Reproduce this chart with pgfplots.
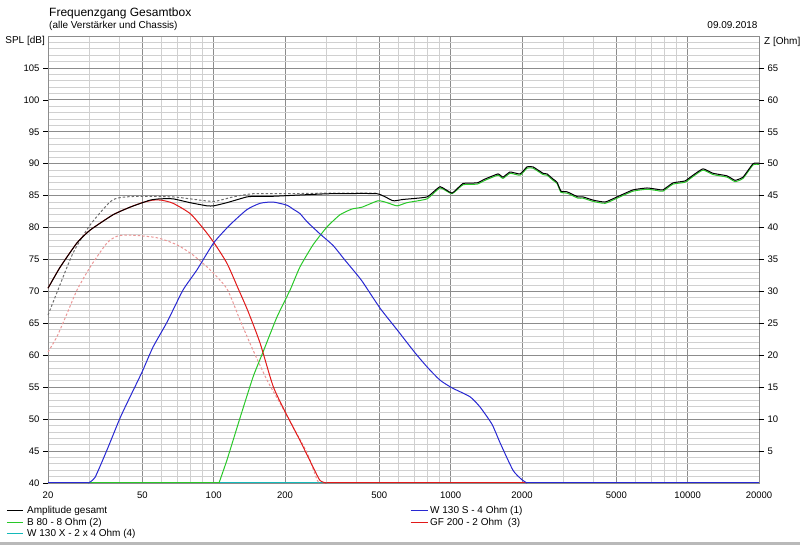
\documentclass[border=0pt]{standalone}
\usepackage{fontspec}
\setmainfont{Liberation Sans}
\usepackage{pgfplots}
\pgfplotsset{compat=1.18}
\definecolor{cgreen}{RGB}{40,200,40}
\definecolor{cblue}{RGB}{40,40,210}
\definecolor{cred}{RGB}{225,25,25}
\definecolor{ccyan}{RGB}{20,185,185}
\definecolor{cgray}{RGB}{110,110,110}
\definecolor{cpink}{RGB}{235,150,150}
\definecolor{gmajor}{RGB}{140,140,140}
\definecolor{gminor}{RGB}{208,208,208}
\newcommand\tkfont{\fontsize{9.5}{11}\selectfont}
\newcommand\lgfont{\fontsize{10}{12}\selectfont}
\newcommand\ttlfont{\fontsize{12}{14}\selectfont}
\begin{document}
\begin{tikzpicture}
\begin{axis}[
 scale only axis, width=711pt, height=447pt,
 xmode=log, xmin=20, xmax=20000, ymin=40, ymax=110,
 xtick={20,50,100,200,500,1000,2000,5000,10000,20000},
 xticklabels={20,50,100,200,500,1000,2000,5000,10000,20000},
 minor xtick={30,40,60,70,80,90,300,400,600,700,800,900,3000,4000,6000,7000,8000,9000},
 ytick={40,45,...,105},
 minor ytick={41,42,43,44,46,47,48,49,51,52,53,54,56,57,58,59,61,62,63,64,66,67,68,69,71,72,73,74,76,77,78,79,81,82,83,84,86,87,88,89,91,92,93,94,96,97,98,99,101,102,103,104,106,107,108,109},
 grid=both,
 major grid style={draw=gmajor, line width=0.8pt},
 minor grid style={draw=gminor, line width=0.8pt},
 axis line style={draw=gmajor, line width=0.8pt},
 tick align=outside,
 xtick pos=bottom, ytick pos=left,
 major tick length=5pt, minor tick length=0pt,
 xtick style={draw=none},
 ytick style={draw=black, line width=0.6pt},
 tick label style={font=\tkfont},
 /pgf/number format/assume math mode=true,
 clip=false,
]
% W 130 X (4): flat
\addplot[ccyan, line width=1pt] coordinates {(20,40) (20000,40)};
% pink dashed
\addplot[cpink, line width=1pt, dash pattern=on 2.5pt off 2pt, smooth, tension=0.4] coordinates {
(20,60.5) (21.8,62.9) (24.1,66.6) (26.5,70.2) (30.1,73.8) (35.5,77.6)
(39.5,78.7) (45.7,78.8) (57.7,78.4) (70,77.3) (81.8,75.7) (96.5,73.4) (113.8,70.4)
(129.2,65.5) (146.6,60.8) (168,56.1) (190.5,52.5) (216,48.8) (248,44.7) (273,40.5) (281,40)};
% gray dashed
\addplot[cgray, line width=1pt, dash pattern=on 2.5pt off 2pt, smooth, tension=0.4] coordinates {
(20,66.3) (21.8,69.8) (25.5,76.0) (30.1,80.4) (36.5,84.0) (40.3,84.7) (48.9,84.9)
(67.4,84.8) (79.5,84.5) (100,84.1) (120.7,84.8) (146.6,85.3) (200,85.3) (310,85.4) (489,85.4)};
% B 80 (2)
\addplot[cgreen, line width=1pt] coordinates {(20,40) (105.3,40)};
\addplot[cgreen, line width=1pt, smooth, tension=0.3] coordinates {
(105.3,40) (113.8,43.6) (129.2,50.2) (146.6,56.6) (161.5,60.5) (185,66.0)
(210,70.2) (231,73.8) (262.6,77.3) (300.8,80.1) (341,82.0) (383,82.9) (423,83.2)
(494,84.2) (539,83.9) (594,83.4) (654,83.9) (795,84.5) (902,86.2) (1013,85.3)
(1127,86.7) (1292,86.8) (1396,87.4) (1584,88.2) (1662,87.7) (1780,88.5) (1962,88.2)
(2100,89.3) (2226,89.3) (2453,88.3) (2550,88.2) (2703,87.4) (2810,86.9) (2922,85.5)
(3098,85.4) (3446,84.6) (3618,84.6) (3988,84.1) (4481,83.8) (5034,84.6) (5880,85.7)
(6738,86.0) (7425,85.8) (7868,85.7) (8672,86.8) (9746,87.1) (10534,88.0) (11606,89.0)
(12792,88.3) (14656,87.9) (15840,87.2) (17120,87.7) (18870,89.8) (20000,89.9)};
% GF 200 (3)
\addplot[cred, line width=1pt, smooth, tension=0.4] coordinates {
(20,70.5) (22.5,73.8) (26.5,77.6) (30.1,79.6) (37.6,82.0) (44.4,83.2) (50,83.9)
(55.4,84.3) (60,84.3) (67.4,83.8) (79.5,82.2) (90.2,79.9) (100,77.7) (113.8,74.4)
(126.7,70.5) (139.6,66.9) (157,61.9) (178,55.2) (200,51.2) (231,46.7)
(262.6,42.5) (281,40.4) (300,40)};
\addplot[cred, line width=1pt] coordinates {(300,40) (20000,40)};
% W 130 S (1)
\addplot[cblue, line width=1pt] coordinates {(20,40) (29.6,40)};
\addplot[cblue, line width=1pt, smooth, tension=0.35] coordinates {
(29.6,40) (31.6,40.9) (35.5,45.2) (40.3,50.2) (44.4,53.5) (49.9,57.4)
(55.5,61.3) (63.6,65.2) (74.2,70.2) (85.1,73.4) (100,77.6) (117,80.4) (138,82.8)
(157,83.8) (178,84.0) (204,83.5) (216,82.9) (231,82.2) (248,80.9) (281,79.0)
(319,77.2) (358,74.9) (383,73.6) (423,71.6) (503,67.4) (594,64.0) (707,60.4)
(803,58.0) (902,56.1) (1013,54.9) (1207,53.5) (1330,51.9) (1494,49.2) (1616,46.3)
(1832,42.0) (2000,40.5) (2100,40)};
\addplot[cblue, line width=1pt] coordinates {(2100,40) (20000,40)};
% Amplitude gesamt
\addplot[black, line width=1pt, smooth, tension=0.25] coordinates {
(20,70.5) (22.5,73.8) (26.5,77.6) (30.1,79.6) (37.6,82.0) (44.4,83.2) (53.9,84.3)
(59.4,84.5) (67.4,84.5) (79.5,83.9) (93.8,83.4) (100,83.4) (113.8,83.9) (138,84.8)
(152,84.9) (178,84.9) (231,85.1) (310,85.3) (489,85.3) (571,84.2) (629,84.4)
(795,84.8) (902,86.4) (1013,85.4) (1127,86.9) (1292,87.0) (1396,87.6) (1584,88.4)
(1662,87.9) (1780,88.7) (1962,88.4) (2100,89.5) (2226,89.5) (2453,88.5) (2550,88.4)
(2703,87.6) (2810,87.1) (2922,85.7) (3098,85.6) (3446,84.8) (3618,84.8) (3988,84.3)
(4481,84.0) (5034,84.8) (5880,85.9) (6738,86.2) (7425,86.0) (7868,85.9) (8672,87.0)
(9746,87.3) (10534,88.2) (11606,89.2) (12792,88.5) (14656,88.1) (15840,87.4)
(17120,87.9) (18870,90.0) (20000,90.1)};
\end{axis}
\begin{axis}[
 scale only axis, width=711pt, height=447pt,
 xmode=log, xmin=20, xmax=20000, ymin=0, ymax=70,
 axis x line=none, axis y line*=right, y axis line style={draw=none},
 ytick={5,10,...,65},
 tick align=outside, major tick length=5pt,
 ytick style={draw=black, line width=0.6pt},
 tick label style={font=\tkfont},
 /pgf/number format/assume math mode=true,
]
\end{axis}
\node[anchor=base west, font=\ttlfont, inner sep=0pt] at (1pt,466.5pt) {Frequenzgang Gesamtbox};
\node[anchor=base west, font=\lgfont, inner sep=0pt] at (1pt,454.5pt) {(alle Verstärker und Chassis)};
\node[anchor=base east, font=\lgfont, inner sep=0pt] at (709.7pt,454.7pt) {09.09.2018};
\node[anchor=base east, font=\lgfont, inner sep=0pt] at (-3pt,439pt) {SPL [dB]};
\node[anchor=base west, font=\lgfont, inner sep=0pt] at (716pt,438pt) {Z [Ohm]};
% legend
\begin{scope}[every node/.style={anchor=mid west, font=\lgfont, inner sep=0pt}]
\draw[black, line width=1pt] (-41pt,-27.5pt) -- (-25pt,-27.5pt);
\node at (-21pt,-27.5pt) {Amplitude gesamt};
\draw[cgreen, line width=1pt] (-41pt,-39.5pt) -- (-25pt,-39.5pt);
\node at (-21pt,-39.5pt) {B 80 - 8 Ohm (2)};
\draw[ccyan, line width=1.2pt] (-41pt,-50.5pt) -- (-25pt,-50.5pt);
\node at (-21pt,-50.5pt) {W 130 X - 2 x 4 Ohm (4)};
\draw[cblue, line width=1pt] (362.7pt,-27.5pt) -- (379.5pt,-27.5pt);
\node at (382pt,-27.5pt) {W 130 S - 4 Ohm (1)};
\draw[cred, line width=1pt] (362.7pt,-39.5pt) -- (379.5pt,-39.5pt);
\node at (382pt,-39.5pt) {GF 200 - 2 Ohm\ \ (3)};
\end{scope}
\fill[gray!55] (-48pt,-62pt) rectangle (752pt,-59pt);
\pgfresetboundingbox
\useasboundingbox (-48pt,-62pt) rectangle (752pt,483pt);
\end{tikzpicture}
\end{document}
